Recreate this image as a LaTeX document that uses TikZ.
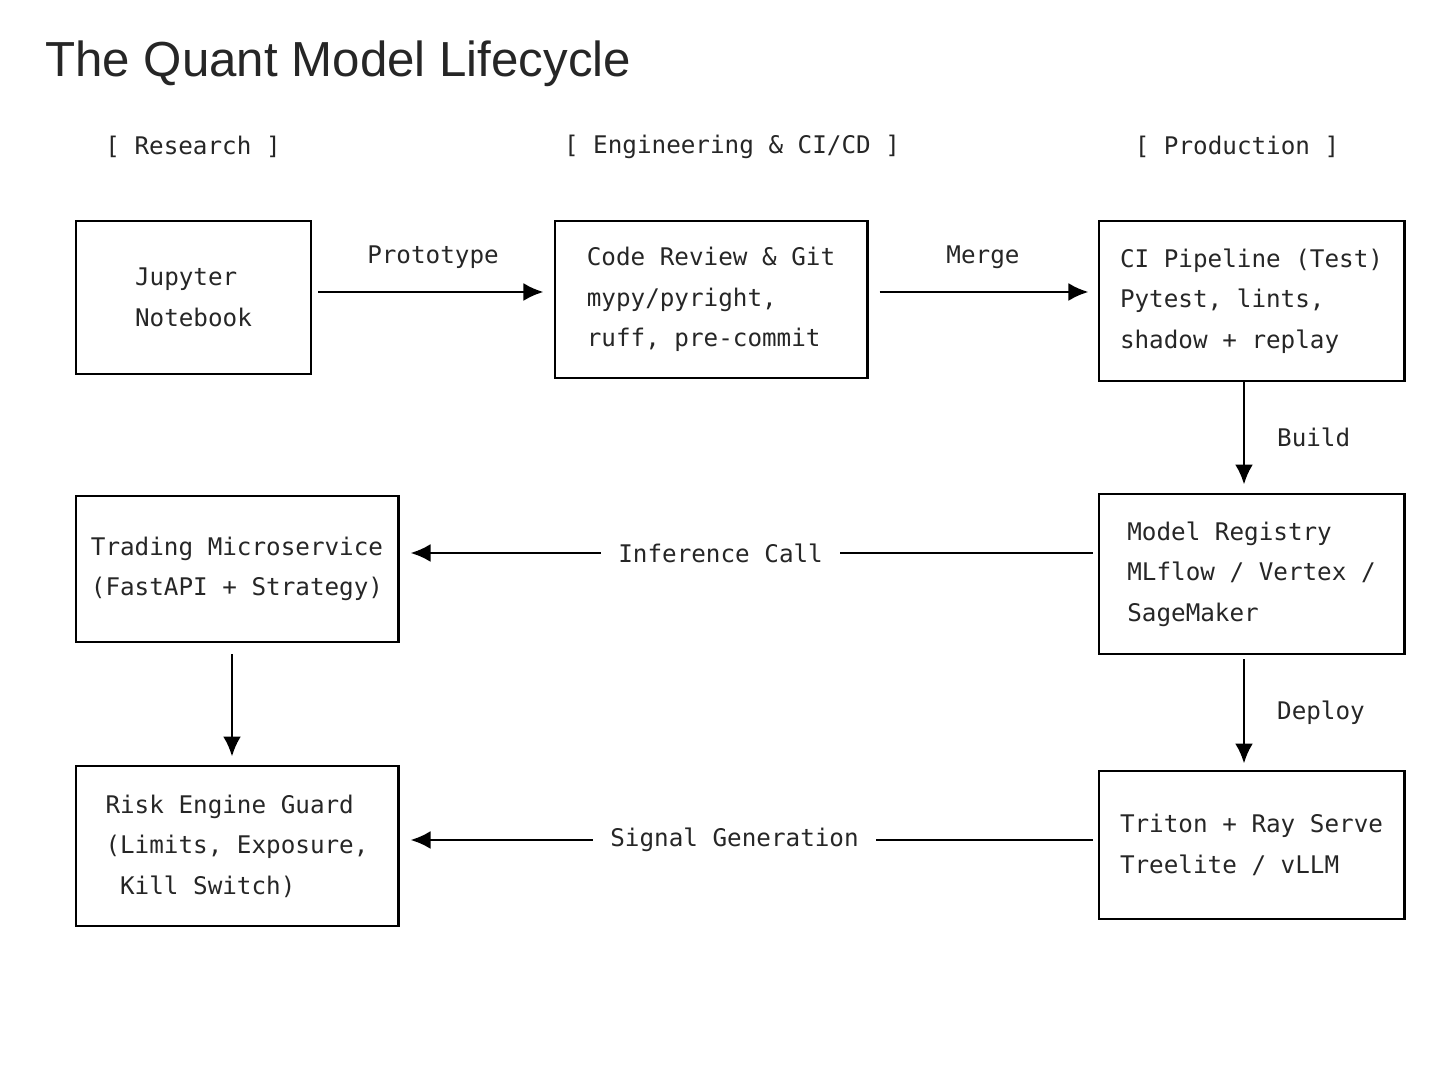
\documentclass[tikz,border=0pt]{standalone}
\usepackage{fontspec}
\setmainfont{Liberation Sans}
\setmonofont{DejaVu Sans Mono}
\usetikzlibrary{arrows.meta}
\usetikzlibrary{positioning}

\begin{document}
\begin{tikzpicture}[>={Latex[length=2mm,width=1.8mm]}, x=0.01cm, y=-0.01cm,
	every node/.style={font=\ttfamily\fontsize{6.9}{11.5}\selectfont, text=black!85},
	box/.style={draw, line width=0.8pt, align=left, inner sep=0pt},
	flow/.style={->, line width=0.8pt},
	lbl/.style={fill=white, inner sep=5pt}]
	\useasboundingbox (0,0) rectangle (1448,1086);

	\node [font=\fontsize{14}{16}\selectfont, anchor=west] (title) at (33,64) {The Quant Model Lifecycle};
	\node (research)    at (193,147)  {[ Research ]};
	\node (engineering) at (732,147)  {[ Engineering \& CI/CD ]};
	\node (production)  at (1237,147) {[ Production ]};

	\node [box, minimum width=2.35cm, minimum height=1.53cm] (jupyter)  at (193.5,297.5) {Jupyter\\Notebook};
	\node [box, minimum width=3.12cm, minimum height=1.57cm] (review)   at (711,299.5)   {Code Review \& Git\\mypy/pyright,\\ruff, pre-commit};
	\node [box, minimum width=3.05cm, minimum height=1.60cm] (ci)       at (1251.5,301)  {CI Pipeline (Test)\\Pytest, lints,\\shadow + replay};
	\node [box, minimum width=3.05cm, minimum height=1.60cm] (registry) at (1251.5,574)  {Model Registry\\MLflow / Vertex /\\SageMaker};
	\node [box, minimum width=3.05cm, minimum height=1.48cm] (triton)   at (1251.5,845)  {Triton + Ray Serve\\Treelite / vLLM};
	\node [box, minimum width=3.22cm, minimum height=1.46cm] (trading)  at (237,569)     {Trading Microservice\\(FastAPI + Strategy)};
	\node [box, minimum width=3.22cm, minimum height=1.60cm] (risk)     at (237,846)     {Risk Engine Guard\\(Limits, Exposure,\\\ Kill Switch)};

	% arrows leave a small gap to the boxes
	\draw [flow, shorten <=0.06cm, shorten >=0.1cm] (jupyter.east |- 0,292) -- node [above=3pt] {Prototype} (review.west |- 0,292);
	\draw [flow, shorten <=0.11cm, shorten >=0.09cm] (review.east |- 0,292) -- node [above=3pt] {Merge} (ci.west |- 0,292);
	\draw [flow, shorten >=0.08cm] (ci.south -| 1244,0) -- node [right=0.2cm] {Build} (registry.north -| 1244,0);
	\draw [flow, shorten <=0.04cm, shorten >=0.06cm] (registry.south -| 1244,0) -- node [right=0.2cm] {Deploy} (triton.north -| 1244,0);
	\draw [flow, shorten <=0.05cm, shorten >=0.11cm] (registry.west |- 0,553) -- node [lbl, pos=0.54] {Inference Call} (trading.east |- 0,553);
	\draw [flow, shorten <=0.05cm, shorten >=0.11cm] (triton.west |- 0,840) -- node [lbl, pos=0.52] {Signal Generation} (risk.east |- 0,840);
	\draw [flow, shorten <=0.11cm, shorten >=0.08cm] (trading.south -| 232,0) -- (risk.north -| 232,0);
\end{tikzpicture}
\end{document}
